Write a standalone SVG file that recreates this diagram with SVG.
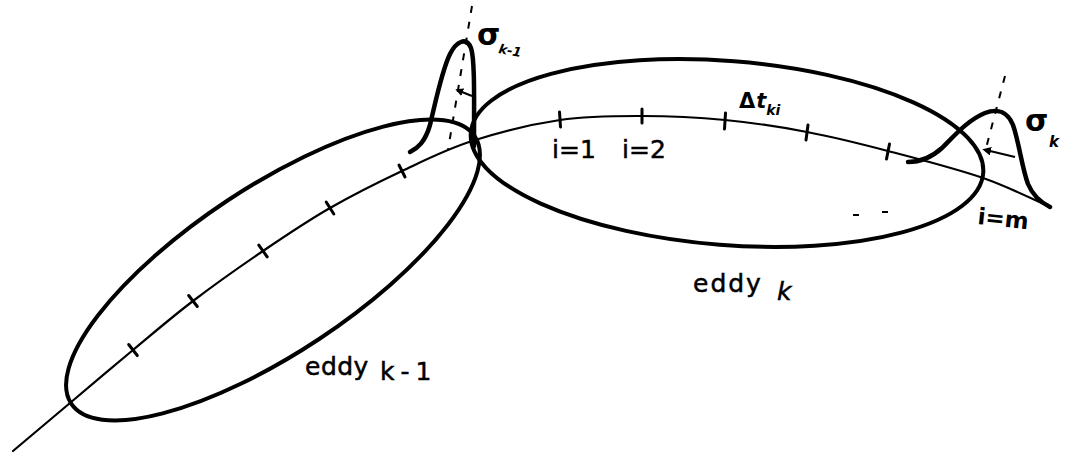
<svg xmlns="http://www.w3.org/2000/svg" width="1066" height="453" viewBox="0 0 1066 453">
<style>
.ell{fill:none;stroke:#000;stroke-width:4}
.traj{fill:none;stroke:#000;stroke-width:2.2;stroke-linecap:round}
.tick{stroke:#000;stroke-width:3;stroke-linecap:round}
.gauss{fill:none;stroke:#000;stroke-width:4.5;stroke-linecap:round;stroke-linejoin:round}
.axis{fill:none;stroke:#000;stroke-width:2;stroke-dasharray:7 9}
.lbl{font-family:"DejaVu Sans",sans-serif;font-size:25px;fill:#000;stroke:#000;stroke-width:0.5}
.sig{font-family:"DejaVu Sans",sans-serif;font-weight:bold;fill:#000}
</style>
<defs>
<marker id="ah" viewBox="0 0 10 10" refX="1" refY="5" markerWidth="4" markerHeight="4" orient="auto-start-reverse">
<path d="M0,0 L10,5 L0,10 z" fill="#000"/>
</marker>
</defs>
<rect width="1066" height="453" fill="#fff"/>
<g id="eddy-k-1">
<ellipse class="ell" cx="273" cy="270" rx="242" ry="83" transform="rotate(-33.5 273 270)"/>
<text class="lbl" x="305" y="375" letter-spacing="0.5">eddy</text>
<text class="lbl" x="380" y="380" letter-spacing="6">k-1</text>
</g>
<g id="eddy-k">
<ellipse class="ell" cx="727" cy="153" rx="257" ry="92" transform="rotate(4.5 727 153)"/>
<text class="lbl" x="693" y="292" letter-spacing="2">eddy</text>
<text class="lbl" x="777" y="300" font-style="italic">k</text>
</g>
<g id="connectors">
<path class="traj" d="M13,451 C22.5,443 50,419.8 70,403 C90,386.2 112.5,367 133,350 C153.5,333 171.3,317.5 193,301 C214.7,284.5 240.2,266.5 263,251 C285.8,235.5 306.8,221.3 330,208 C353.2,194.7 378.3,182.2 402,171 C425.7,159.8 445.7,149.5 472,141 C498.3,132.5 531.7,124.2 560,120 C588.3,115.8 614.5,116 642,116 C669.5,116 697.5,117.3 725,120 C752.5,122.7 779.8,126.8 807,132 C834.2,137.2 858.7,143.3 888,151 C917.3,158.7 956,168.7 983,178 C1010,187.3 1038.8,202.2 1050,207"/>
<g id="ticks">
<line class="tick" x1="128.7" y1="344.5" x2="137.3" y2="355.5"/>
<line class="tick" x1="188.7" y1="295.5" x2="197.3" y2="306.5"/>
<line class="tick" x1="258.8" y1="245.2" x2="267.2" y2="256.8"/>
<line class="tick" x1="326.2" y1="202" x2="333.8" y2="214"/>
<line class="tick" x1="399" y1="165" x2="405" y2="177"/>
<line class="tick" x1="559.5" y1="112" x2="560.5" y2="127"/>
<line class="tick" x1="642" y1="109" x2="642" y2="123"/>
<line class="tick" x1="725.5" y1="113" x2="724.5" y2="129"/>
<line class="tick" x1="808" y1="125" x2="806" y2="140"/>
<line class="tick" x1="889.5" y1="144" x2="886.5" y2="159"/>
</g>
<path d="M853,215 h6 M882,212 h6" stroke="#000" stroke-width="2.2"/>
<text class="lbl" x="552" y="158" font-size="26" letter-spacing="0">i=1</text>
<text class="lbl" x="622" y="158" font-size="26" letter-spacing="0">i=2</text>
<text x="739" y="108" style="font-family:'DejaVu Sans',sans-serif;font-size:21px;font-weight:bold">Δ<tspan font-style="italic" font-size="21" dx="1">t</tspan><tspan font-size="14" dy="7" font-style="italic">ki</tspan></text>
<text x="977" y="224" transform="rotate(6 977 224)" style="font-family:'DejaVu Sans',sans-serif;font-size:23px;font-weight:bold">i=m</text>
</g>
<g id="sigma-k-1">
<path class="axis" d="M472,6 L448,150"/>
<path class="gauss" d="M410,152 C418,148 425,142 430,125 C436,100 442,70 450,54 C456,42 466,36 471,48 C475,60 474,100 474,146"/>
<line x1="472" y1="96" x2="462" y2="92" stroke="#000" stroke-width="2" marker-end="url(#ah)"/>
<text class="sig" x="477" y="45" font-size="30">σ</text>
<text class="sig" x="498" y="53" font-size="13" font-style="italic" transform="rotate(10 498 53)">k-1</text>
</g>
<g id="sigma-k">
<path class="axis" d="M1005,76 L985,152"/>
<path class="gauss" d="M908,162 C922,162 932,157 942,148 C955,135 968,120 985,113 C998,108 1008,112 1013,125 C1019,142 1022,168 1028,184 C1033,196 1042,203 1050,207"/>
<line x1="1015" y1="157" x2="990" y2="151" stroke="#000" stroke-width="2.2" marker-end="url(#ah)"/>
<text class="sig" x="1025" y="131" font-size="30">σ</text>
<text class="sig" x="1049" y="147" font-size="15" font-style="italic">k</text>
</g>
</svg>
